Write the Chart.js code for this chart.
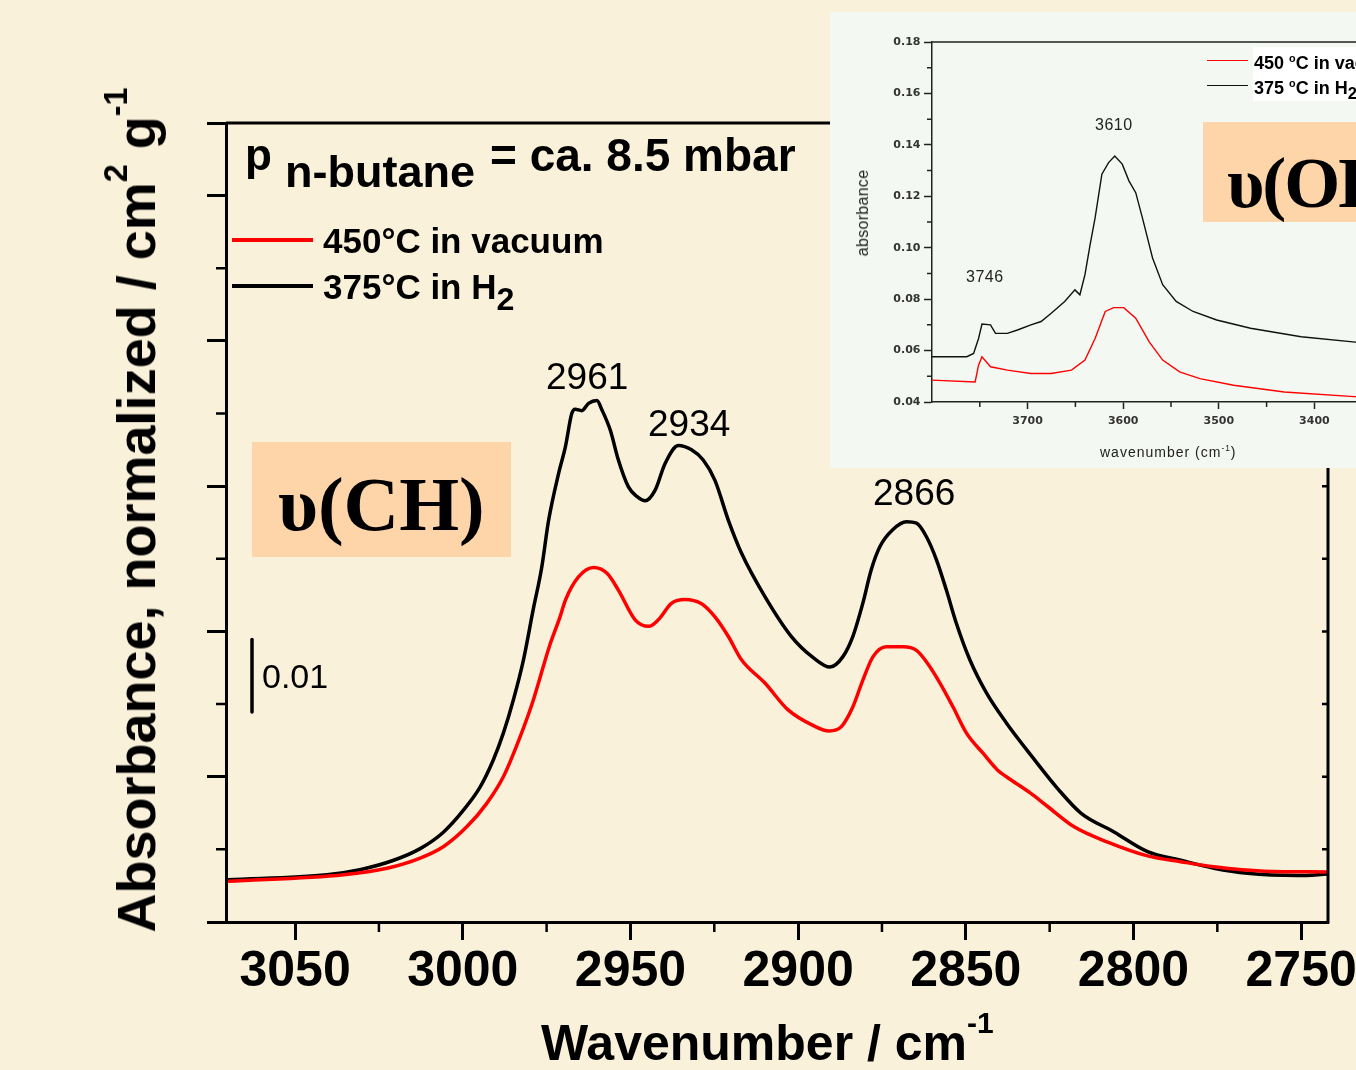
<!DOCTYPE html>
<html lang="en">
<head>
<meta charset="utf-8">
<title>n-butane on zeolite, IR spectra</title>
<script src="https://cdn.jsdelivr.net/npm/chart.js@4.4.1/dist/chart.umd.min.js"></script>
<style>
	html, body { margin: 0; padding: 0; overflow: hidden; }
	body { width: 1356px; height: 1070px; background: #faf1da; }
	#page { position: relative; width: 1356px; height: 1070px; overflow: hidden; background: #faf1da; font-family: 'Liberation Sans', Arial, sans-serif; color: #000; }
	#main { position: absolute; left: 0; top: 0; }
	.txt { position: absolute; white-space: nowrap; line-height: 1; }
	.bold { font-weight: bold; }
	.sup { position: relative; font-size: 0.6em; }
	.swatch { position: absolute; }
	.badge { position: absolute; background: #fdd5a8; }
	.serif { font-family: 'Liberation Serif', 'Times New Roman', serif; font-weight: bold; }
	#inset { position: absolute; left: 830px; top: 12px; width: 526px; height: 456px; background: #f4f8f2; overflow: hidden; }
	#inset canvas { position: absolute; left: 0; top: 0; }
	.pix { color: #222; }
</style>
</head>
<body>
<div id="page">
	<canvas id="main" width="1356" height="1070"></canvas>

	<div class="txt bold" style="left:245px; top:133px; font-size:44px;">p</div>
	<div class="txt bold" style="left:285px; top:149px; font-size:45px;">n-butane</div>
	<div class="txt bold" style="left:490px; top:132px; font-size:46px;">= ca. 8.5 mbar</div>

	<div class="badge serif" style="left:252px; top:442px; width:259px; height:115px;"></div>
	<div class="txt serif" style="left:278px; top:466px; font-size:77px;">υ(CH)</div>

	<div class="txt" style="left:262px; top:659px; font-size:34px;">0.01</div>

	<div class="txt" style="left:546px; top:358px; font-size:37px;">2961</div>
	<div class="txt" style="left:648px; top:405px; font-size:37px;">2934</div>
	<div class="txt" style="left:873px; top:474px; font-size:37px;">2866</div>

	<div class="txt bold" style="left:136px; top:510px; font-size:54px; transform:translate(-50%,-50%) rotate(-90deg);">Absorbance, normalized / cm<span class="sup" style="top:-0.85em;">2</span> g<span class="sup" style="top:-0.85em;">-1</span></div>
	<div class="txt bold" style="left:541px; top:1018px; font-size:50px;">Wavenumber / cm<span class="sup" style="top:-0.9em;">-1</span></div>

	<div id="inset">
		<canvas id="insetCanvas" width="700" height="456"></canvas>
		<div class="txt pix" style="left:265px; top:105px; font-size:16px; letter-spacing:0.5px;">3610</div>
		<div class="txt pix" style="left:136px; top:257px; font-size:16px; letter-spacing:0.5px;">3746</div>
		<div class="txt pix" style="left:270px; top:433px; font-size:14px; letter-spacing:1px;">wavenumber (cm<span class="sup" style="top:-0.7em;">-1</span>)</div>
		<div class="txt pix" style="left:33px; top:201px; font-size:16px; letter-spacing:0.3px; transform:translate(-50%,-50%) rotate(-90deg);">absorbance</div>
		<div style="position:absolute; left:423px; top:35px; width:200px; height:54px; background:#ffffff;"></div>
		<div class="badge serif" style="left:373px; top:110px; width:300px; height:100px;"></div>
		<div class="txt serif" style="left:397px; top:135px; font-size:72px; letter-spacing:-2px;">υ(OH)</div>
	</div>
</div>

<script>
// main spectrum, nu(CH) region, 450 C in vacuum (red)
const vacuumWn = [3070, 3035.5, 3022.6, 3012.7, 3005.7, 2998.8, 2992.9, 2987.9, 2982.9, 2979, 2974.2, 2971, 2969.4, 2965.5, 2961, 2957, 2953.6, 2948.6, 2944.6, 2941.7, 2937.7, 2933.7, 2928.8, 2924.8, 2920.8, 2916.9, 2909.9, 2903, 2895.3, 2890.8, 2887.1, 2883.7, 2880.7, 2877.7, 2873.7, 2868.7, 2864.7, 2861.7, 2857.7, 2853.8, 2849.8, 2844.8, 2840.5, 2837.9, 2830.6, 2825.6, 2817.7, 2807.7, 2795.8, 2785.9, 2776, 2761, 2742];
const vacuumAbs = [0.0056, 0.0065, 0.0074, 0.0088, 0.0104, 0.0131, 0.0163, 0.0200, 0.0255, 0.0305, 0.0379, 0.0420, 0.0443, 0.0475, 0.0488, 0.0480, 0.0457, 0.0416, 0.0407, 0.0416, 0.0439, 0.0444, 0.0438, 0.0420, 0.0393, 0.0361, 0.0329, 0.0292, 0.0270, 0.0263, 0.0269, 0.0296, 0.0333, 0.0365, 0.0379, 0.0379, 0.0374, 0.0358, 0.0329, 0.0296, 0.0260, 0.0232, 0.0209, 0.0200, 0.0177, 0.0159, 0.0131, 0.0110, 0.0091, 0.0083, 0.0076, 0.0070, 0.0069];

// 375 C in H2 (black)
const hydrogenWn = [3070, 3040.5, 3030.7, 3020.6, 3012.7, 3005.7, 2999.8, 2994.8, 2990.9, 2987.9, 2984.9, 2981.9, 2979, 2976.5, 2974.4, 2971.4, 2969.4, 2967.5, 2966.5, 2964.5, 2962.5, 2960, 2958.5, 2956, 2953.6, 2950.6, 2948.1, 2945.6, 2942.6, 2939.7, 2935.7, 2931.8, 2928.3, 2924.8, 2920.8, 2916.9, 2909.9, 2902, 2895.5, 2890.5, 2886.7, 2883.7, 2880.7, 2878.2, 2875.6, 2871.8, 2867.7, 2864.7, 2861.7, 2858.7, 2855.8, 2852.8, 2848.8, 2843.8, 2837.9, 2830.3, 2822.3, 2815.7, 2805.8, 2795.8, 2785.9, 2776, 2766, 2751, 2742];
const hydrogenAbs = [0.0058, 0.0065, 0.0072, 0.0085, 0.0101, 0.0124, 0.0154, 0.0186, 0.0223, 0.0260, 0.0306, 0.0361, 0.0430, 0.0487, 0.0553, 0.0618, 0.0654, 0.0700, 0.0706, 0.0704, 0.0714, 0.0718, 0.0705, 0.0677, 0.0636, 0.0599, 0.0586, 0.0580, 0.0595, 0.0631, 0.0656, 0.0650, 0.0636, 0.0608, 0.0553, 0.0508, 0.0448, 0.0393, 0.0364, 0.0351, 0.0365, 0.0393, 0.0439, 0.0485, 0.0517, 0.0540, 0.0551, 0.0549, 0.0530, 0.0498, 0.0457, 0.0411, 0.0361, 0.0315, 0.0274, 0.0228, 0.0182, 0.0150, 0.0124, 0.0097, 0.0085, 0.0074, 0.0067, 0.0064, 0.0066];

const xMajorTicks = [3050, 3000, 2950, 2900, 2850, 2800, 2750];
const xMinorTicks = [3025, 2975, 2925, 2875, 2825, 2775];
const yMajorTicks = [0, 0.02, 0.04, 0.06, 0.08, 0.10, 0.11];
const yMinorTicks = [0.01, 0.03, 0.05, 0.07, 0.09];
const scaleBarFrom = 0.0289;
const scaleBarSize = 0.01;

// inset, nu(OH) region
const insetVacuumWn = [3800, 3754.9, 3751.3, 3747.7, 3738.8, 3721.2, 3696.5, 3675.3, 3654.1, 3640, 3629.4, 3618.8, 3610, 3599.4, 3586.9, 3572.8, 3558.7, 3541, 3519.8, 3484.5, 3431.5, 3354.5];
const insetVacuumAbs = [0.0485, 0.0478, 0.0543, 0.0576, 0.0537, 0.0524, 0.0511, 0.0511, 0.0524, 0.0563, 0.0647, 0.0752, 0.0767, 0.0767, 0.0726, 0.0634, 0.0563, 0.0517, 0.0491, 0.0465, 0.0439, 0.0420];
const insetHydrogenWn = [3800, 3763.6, 3756.5, 3751.3, 3747.7, 3738.8, 3733.6, 3721.2, 3710.6, 3696.5, 3685.9, 3675.3, 3661.2, 3650.5, 3645.3, 3640, 3634.6, 3629.4, 3622.3, 3615.3, 3608.8, 3601, 3594, 3586.9, 3579.9, 3569.3, 3558.7, 3544.6, 3526.9, 3502.2, 3466.8, 3413.9, 3354.5];
const insetHydrogenAbs = [0.0576, 0.0576, 0.0589, 0.0647, 0.0703, 0.0700, 0.0667, 0.0667, 0.0680, 0.0700, 0.0713, 0.0745, 0.0791, 0.0836, 0.0817, 0.0895, 0.1012, 0.1116, 0.1286, 0.1331, 0.1357, 0.1325, 0.1260, 0.1214, 0.1116, 0.0960, 0.0856, 0.0791, 0.0752, 0.0719, 0.0687, 0.0654, 0.0632];

const insetXMajor = [3700, 3600, 3500, 3400, 3300];
const insetXMinor = [3750, 3650, 3550, 3450, 3350];
const insetYMajor = [0.04, 0.06, 0.08, 0.10, 0.12, 0.14, 0.16, 0.18];
const insetYMinor = [0.05, 0.07, 0.09, 0.11, 0.13, 0.15, 0.17];

const SANS = "'Liberation Sans', Arial, sans-serif";
const PIXEL = "'DejaVu Sans', 'Liberation Sans', sans-serif";

function toPoints(xs, ys)
{
	return xs.map(function(x, i) { return {x: x, y: ys[i]}; });
}

function plainNumber(v)
{
	return String(v);
}

function formatLabel(text, raiseOrdinal)
{
	let html = text.replace('₂', '<span style="position:relative; top:0.32em; font-size:0.92em;">2</span>');
	if(raiseOrdinal)
	{
		html = html.replace('º', '<span class="sup" style="top:-0.6em;">o</span>');
	}
	return html;
}

function addNode(parent, cls, css, html)
{
	let node = document.createElement('div');
	node.className = cls;
	Object.assign(node.style, css);
	if(html !== undefined)
	{
		node.innerHTML = html;
	}
	parent.appendChild(node);
	return node;
}

const mainExtras = {
	id: 'mainExtras',
	afterDraw(chart)
	{
		const ctx = chart.ctx;
		const a = chart.chartArea;
		const x = chart.scales.x;
		const y = chart.scales.y;
		ctx.save();
		ctx.strokeStyle = '#000';
		ctx.lineWidth = 3;
		ctx.beginPath();
		ctx.moveTo(a.left, a.top);
		ctx.lineTo(a.right, a.top);
		ctx.lineTo(a.right, a.bottom + 1.5);
		ctx.stroke();
		ctx.lineWidth = 2.5;
		ctx.beginPath();
		for(let v of xMinorTicks)
		{
			let p = x.getPixelForValue(v);
			ctx.moveTo(p, a.bottom);
			ctx.lineTo(p, a.bottom + 10);
		}
		for(let v of yMinorTicks)
		{
			let p = y.getPixelForValue(v);
			ctx.moveTo(a.left, p);
			ctx.lineTo(a.left - 10, p);
		}
		for(let v of yMinorTicks.concat(yMajorTicks))
		{
			if(v <= y.min || v >= y.max) continue;
			let p = y.getPixelForValue(v);
			ctx.moveTo(a.right, p);
			ctx.lineTo(a.right - 6, p);
		}
		ctx.stroke();
		// 0.01 scale bar
		ctx.lineWidth = 3.5;
		ctx.lineCap = 'round';
		ctx.beginPath();
		ctx.moveTo(a.left + 26, y.getPixelForValue(scaleBarFrom));
		ctx.lineTo(a.left + 26, y.getPixelForValue(scaleBarFrom + scaleBarSize));
		ctx.stroke();
		ctx.restore();
	}
};

const insetExtras = {
	id: 'insetExtras',
	afterDraw(chart)
	{
		const ctx = chart.ctx;
		const a = chart.chartArea;
		const x = chart.scales.x;
		const y = chart.scales.y;
		ctx.save();
		ctx.strokeStyle = '#222';
		ctx.lineWidth = 1.5;
		ctx.beginPath();
		ctx.moveTo(a.left, a.top);
		ctx.lineTo(a.right, a.top);
		ctx.lineTo(a.right, a.bottom);
		for(let v of insetXMinor)
		{
			let p = x.getPixelForValue(v);
			ctx.moveTo(p, a.bottom);
			ctx.lineTo(p, a.bottom + 5);
		}
		for(let v of insetYMinor)
		{
			let p = y.getPixelForValue(v);
			ctx.moveTo(a.left, p);
			ctx.lineTo(a.left - 5, p);
		}
		ctx.stroke();
		ctx.restore();
	}
};

const mainChart = new Chart(document.getElementById('main'),
	{
		type: 'line',
		data:
			{
				datasets: [
					{
						label: '450°C in vacuum',
						data: toPoints(vacuumWn, vacuumAbs),
						borderColor: '#ff0000'
					},
					{
						label: '375°C in H₂',
						data: toPoints(hydrogenWn, hydrogenAbs),
						borderColor: '#000000'
					}]
			},
		options:
			{
				responsive: false,
				animation: false,
				events: [],
				layout: { padding: { left: 207, top: 123, right: 28, bottom: 0 } },
				plugins: { legend: { display: false }, tooltip: { enabled: false } },
				elements:
					{
						point: { radius: 0 },
						line: { borderWidth: 3.5, cubicInterpolationMode: 'monotone', borderJoinStyle: 'round', fill: false }
					},
				scales:
					{
						x:
							{
								type: 'linear',
								reverse: true,
								min: 2742,
								max: 3070.6,
								afterBuildTicks: function(s) { s.ticks = xMajorTicks.map(function(v) { return {value: v}; }); },
								afterFit: function(s) { s.height = 148; s.paddingLeft = 0; s.paddingRight = 0; },
								grid: { drawOnChartArea: false, drawTicks: true, tickLength: 18, tickWidth: 3, tickColor: '#000' },
								border: { display: true, width: 3, color: '#000' },
								ticks: { color: '#000', padding: 2, maxRotation: 0, autoSkip: false, font: { family: SANS, size: 50, weight: 'bold' }, callback: plainNumber }
							},
						y:
							{
								type: 'linear',
								min: 0,
								max: 0.11,
								afterBuildTicks: function(s) { s.ticks = yMajorTicks.map(function(v) { return {value: v}; }); },
								afterFit: function(s) { s.width = 19; },
								grid: { drawOnChartArea: false, drawTicks: true, tickLength: 19, tickWidth: 3, tickColor: '#000' },
								border: { display: true, width: 3, color: '#000' },
								ticks: { display: false }
							}
					}
			},
		plugins: [mainExtras]
	});

const insetChart = new Chart(document.getElementById('insetCanvas'),
	{
		type: 'line',
		data:
			{
				datasets: [
					{
						label: '450 ºC in vacuum',
						data: toPoints(insetVacuumWn, insetVacuumAbs),
						borderColor: '#ff0000'
					},
					{
						label: '375 ºC in H₂',
						data: toPoints(insetHydrogenWn, insetHydrogenAbs),
						borderColor: '#111111'
					}]
			},
		options:
			{
				responsive: false,
				animation: false,
				events: [],
				layout: { padding: { left: 0, top: 30, right: 120, bottom: 0 } },
				plugins: { legend: { display: false }, tooltip: { enabled: false } },
				elements:
					{
						point: { radius: 0 },
						line: { borderWidth: 1.4, tension: 0, fill: false }
					},
				scales:
					{
						x:
							{
								type: 'linear',
								reverse: true,
								min: 3300,
								max: 3800,
								afterBuildTicks: function(s) { s.ticks = insetXMajor.map(function(v) { return {value: v}; }); },
								afterFit: function(s) { s.height = 66; s.paddingLeft = 0; s.paddingRight = 0; },
								grid: { drawOnChartArea: false, drawTicks: true, tickLength: 7, tickWidth: 1.5, tickColor: '#222' },
								border: { display: true, width: 1.5, color: '#222' },
								ticks: { color: '#333', padding: 6, maxRotation: 0, autoSkip: false, font: { family: PIXEL, size: 11, weight: 'bold' }, callback: plainNumber }
							},
						y:
							{
								type: 'linear',
								min: 0.04,
								max: 0.18,
								afterBuildTicks: function(s) { s.ticks = insetYMajor.map(function(v) { return {value: v}; }); },
								afterFit: function(s) { s.width = 102; },
								grid: { drawOnChartArea: false, drawTicks: true, tickLength: 8, tickWidth: 1.5, tickColor: '#222' },
								border: { display: true, width: 1.5, color: '#222' },
								ticks: { color: '#333', padding: 3.5, autoSkip: false, font: { family: PIXEL, size: 11, weight: 'bold' }, callback: function(v) { return v.toFixed(2); } }
							}
					}
			},
		plugins: [insetExtras]
	});

// legends, built from the datasets
let page = document.getElementById('page');
mainChart.data.datasets.forEach(function(ds, i)
{
	let lineY = 240 + i * 46;
	addNode(page, 'swatch', { left: '232px', top: (lineY - 2) + 'px', width: '81px', height: '4px', background: ds.borderColor });
	addNode(page, 'txt bold', { left: '323px', top: (lineY - 16.6) + 'px', fontSize: '35px' }, formatLabel(ds.label, false));
});
let inset = document.getElementById('inset');
insetChart.data.datasets.forEach(function(ds, i)
{
	let lineY = 48.3 + i * 25.2;
	addNode(inset, 'swatch', { left: '377px', top: (lineY - 0.75) + 'px', width: '41px', height: '1.5px', background: ds.borderColor });
	addNode(inset, 'txt bold', { left: '424px', top: (lineY - 6.8) + 'px', fontSize: '18px' }, formatLabel(ds.label, true));
});
</script>
</body>
</html>
